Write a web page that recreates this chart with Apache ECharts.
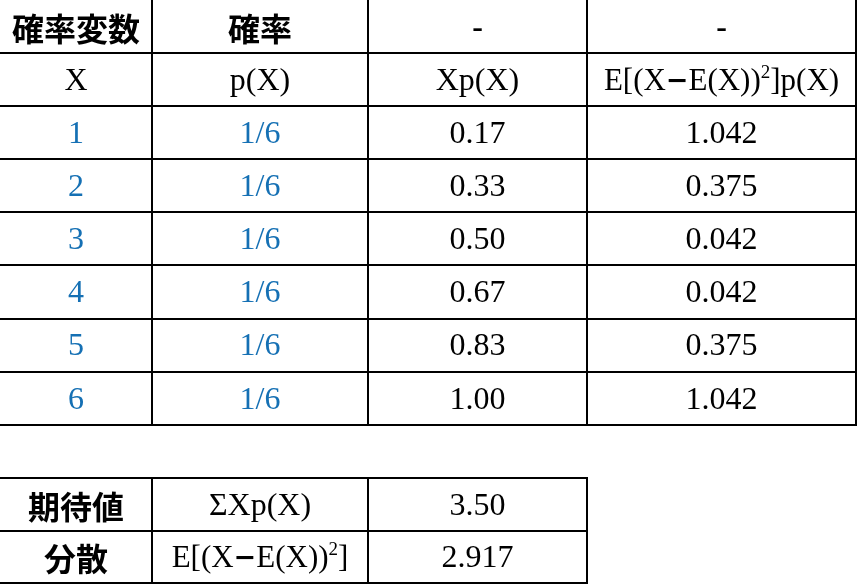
<!DOCTYPE html>
<html>
<head>
<meta charset="utf-8">
<script src="https://cdn.jsdelivr.net/npm/echarts@6/dist/echarts.min.js"></script>
<style>
html,body{margin:0;padding:0;background:#fff;}
#main{width:857px;height:584px;}
</style>
</head>
<body>
<div id="main"></div>
<script>
// 表の中身
var headRow1 = ['確率変数', '確率', '-', '-'];
var headRow2 = ['X', 'p(X)', 'Xp(X)', '{n|E[(X}{m|−}{n|E(X))}{s|2}{n|]p(X)}'];
var xValues = ['1', '2', '3', '4', '5', '6'];
var probs = ['1/6', '1/6', '1/6', '1/6', '1/6', '1/6'];
var xp = ['0.17', '0.33', '0.50', '0.67', '0.83', '1.00'];
var devP = ['1.042', '0.375', '0.042', '0.042', '0.375', '1.042'];
var sumLabels = ['期待値', '分散'];
var sumFormulas = ['ΣXp(X)', '{n|E[(X}{m|−}{n|E(X))}{s|2}{n|]}'];
var sumValues = ['3.50', '2.917'];

// 列の境界 (x軸の値)
var colEdges = [0, 152, 368, 587, 857];
var nRows = 11;

var cells = [];
function add(c, r, t, kind, top){
	cells.push({value: [c, r], text: t, kind: kind, top: !!top});
}
for (var i = 0; i < 4; i++) {
	add(i, 0, headRow1[i], i < 2 ? 'cjk' : 'dash');
	add(i, 1, headRow2[i], 'serif');
}
for (var k = 0; k < xValues.length; k++) {
	add(0, k + 2, xValues[k], 'blue');
	add(1, k + 2, probs[k], 'blue');
	add(2, k + 2, xp[k], 'serif');
	add(3, k + 2, devP[k], 'serif');
}
for (var j = 0; j < sumLabels.length; j++) {
	add(0, j + 9, sumLabels[j], 'cjk', j == 0);
	add(1, j + 9, sumFormulas[j], 'serif', j == 0);
	add(2, j + 9, sumValues[j], 'serif', j == 0);
}

var serif = '"Liberation Serif", "DejaVu Serif", serif';
var fs = 32;
var rich = {
	n: {fontFamily: serif, fontSize: 31, fill: '#000', lineHeight: 36},
	m: {fontFamily: '"DejaVu Sans"', fontWeight: 'bold', fontSize: 27, fill: '#000', lineHeight: 36},
	s: {fontFamily: serif, fontSize: 19, fill: '#000', lineHeight: 36, verticalAlign: 'top', padding: [0, 0, 19, 0]}
};

function px(v){ return Math.round(v); }

function renderCell(params, api){
	var d = cells[params.dataIndex];
	var c = api.value(0), r = api.value(1);
	var p0 = api.coord([colEdges[c], r]);
	var p1 = api.coord([colEdges[c + 1], r + 1]);
	var x0 = p0[0], y0 = p0[1], x1 = Math.min(p1[0], 856), y1 = Math.min(p1[1], 583);
	var ls = {stroke: '#000', lineWidth: 2};
	var kids = [
		{type: 'line', shape: {x1: px(x0), y1: px(y1), x2: px(x1) + 1, y2: px(y1)}, style: ls},
		{type: 'line', shape: {x1: px(x1), y1: px(y0), x2: px(x1), y2: px(y1) + 1}, style: ls}
	];
	if (d.top) {
		kids.push({type: 'line', shape: {x1: px(x0), y1: px(y0), x2: px(x1) + 1, y2: px(y0)}, style: ls});
	}
	var st = {
		text: d.text, x: (x0 + x1) / 2, y: (y0 + y1) / 2 + 2,
		align: 'center', verticalAlign: 'middle', fill: '#000'
	};
	if (d.kind == 'cjk') {
		st.font = 'bold 32px "Noto Sans CJK JP"';
	} else if (d.kind == 'dash') {
		st.font = 'bold ' + fs + 'px ' + serif;
	} else if (d.kind == 'blue') {
		st.font = fs + 'px ' + serif;
		st.fill = '#1570b4';
	} else {
		st.font = fs + 'px ' + serif;
		st.rich = rich;
	}
	kids.push({type: 'text', style: st});
	return {type: 'group', children: kids};
}

var myChart = echarts.init(document.getElementById('main'));
var option = {
	animation: false,
	backgroundColor: '#fff',
	grid: {left: 0, right: 0, top: 0, bottom: 0},
	xAxis: {type: 'value', min: 0, max: colEdges[colEdges.length - 1], show: false},
	yAxis: {type: 'value', min: 0, max: nRows, inverse: true, show: false},
	series: [{
		type: 'custom',
		renderItem: renderCell,
		clip: false,
		data: cells
	}]
};
myChart.setOption(option);
</script>
</body>
</html>
